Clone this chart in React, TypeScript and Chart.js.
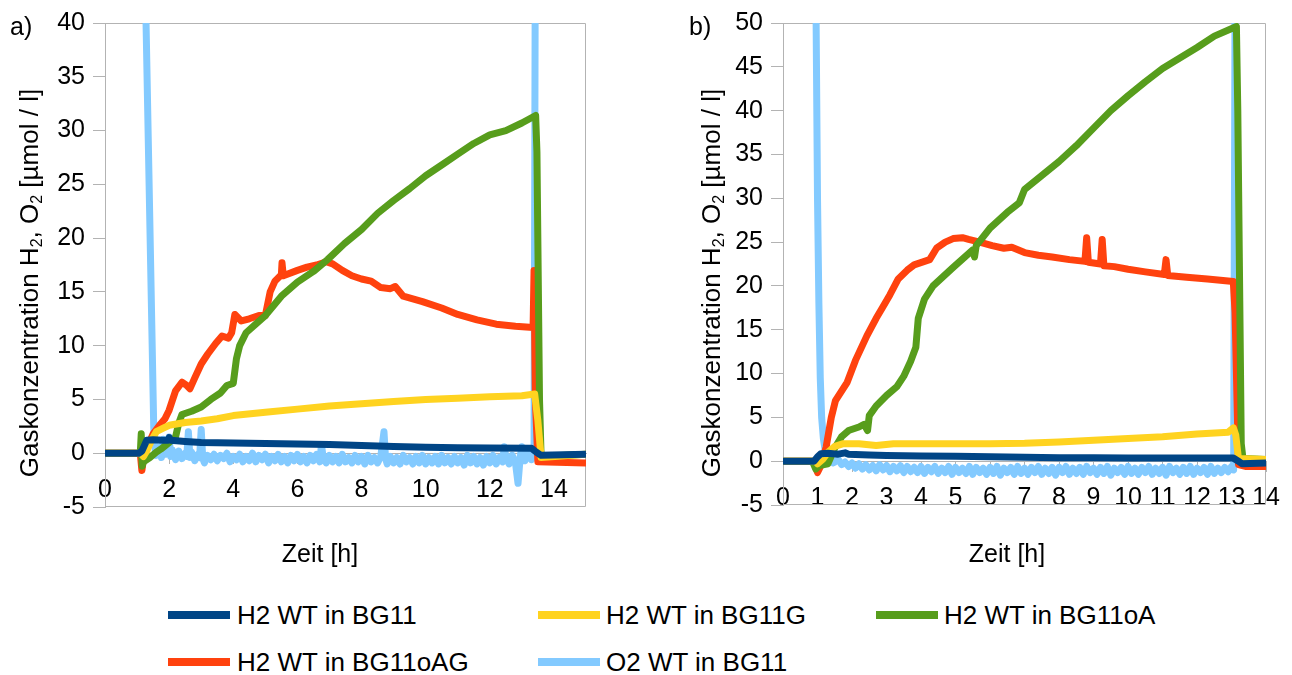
import React, { useEffect, useRef } from "react";
import { Chart, registerables } from "chart.js";

Chart.register(...registerables);

// ---------- colours / labels ----------
const C_BG11 = "#004586";
const C_BG11G = "#ffd320";
const C_BG11OA = "#579d1c";
const C_BG11OAG = "#ff420e";
const C_O2 = "#83caff";

const LABELS = ["H2 WT in BG11", "H2 WT in BG11G", "H2 WT in BG11oA", "H2 WT in BG11oAG", "O2 WT in BG11"];

// ---------- panel a) data [h, µmol/l] ----------
const A_H2_BG11: number[][] = [
  [0, 0], [1.05, 0], [1.15, 0.2], [1.3, 1.2], [1.5, 1.25], [1.8, 1.2], [1.97, 1.2], [2.0, 1.45], [2.05, 1.2],
  [2.5, 1.1], [3, 1.0], [4, 0.95], [5, 0.9], [6, 0.85], [7, 0.8], [8, 0.72], [9, 0.62], [10, 0.56],
  [11, 0.52], [12, 0.48], [13.3, 0.46], [13.45, 0.1], [13.6, -0.2], [15, -0.1],
];
const A_H2_BG11G: number[][] = [
  [0, 0], [1.1, 0], [1.2, -0.3], [1.3, 0.2], [1.45, 1.2], [1.6, 2.0], [1.8, 2.3], [2, 2.6], [2.5, 2.85],
  [3, 3.0], [3.5, 3.2], [4, 3.5], [5, 3.8], [6, 4.1], [7, 4.4], [8, 4.6], [9, 4.8], [10, 5.0], [11, 5.1],
  [12, 5.25], [13, 5.35], [13.4, 5.5], [13.5, 3.0], [13.6, -0.4], [15, -0.1],
];
const A_H2_BG11OA: number[][] = [
  [0, 0], [1.1, 0], [1.13, 1.8], [1.16, -1.2], [1.2, -0.8], [1.4, -0.4], [1.6, 0.1], [1.75, 0.4], [2.0, 1.0],
  [2.2, 1.5], [2.3, 2.8], [2.4, 3.6], [2.7, 3.9], [3.0, 4.3], [3.3, 5.0], [3.6, 5.6], [3.8, 6.3], [4.0, 6.5],
  [4.1, 8.8], [4.2, 10.0], [4.4, 11.2], [4.7, 12.0], [5.0, 12.8], [5.5, 14.6], [6.0, 15.9], [6.5, 16.9],
  [6.94, 18.0], [7.47, 19.5], [8.0, 20.8], [8.5, 22.3], [9.0, 23.5], [9.5, 24.6], [10.0, 25.8], [10.5, 26.8],
  [11.0, 27.8], [11.5, 28.8], [12.0, 29.6], [12.5, 30.0], [13.0, 30.7], [13.43, 31.4], [13.47, 28],
  [13.55, 5], [13.6, -0.3], [15, -0.1],
];
const A_H2_BG11OAG: number[][] = [
  [0, 0], [1.1, 0], [1.15, -1.6], [1.2, -0.5], [1.35, 0.8], [1.5, 1.8], [1.7, 2.6], [1.87, 3.2], [2.0, 4.0],
  [2.2, 5.8], [2.4, 6.6], [2.55, 6.3], [2.65, 6.0], [2.8, 7.0], [3.0, 8.3], [3.2, 9.2], [3.45, 10.2],
  [3.65, 10.9], [3.85, 10.7], [3.95, 11.2], [4.05, 12.9], [4.25, 12.3], [4.5, 12.5], [4.8, 12.8], [5.0, 12.8],
  [5.15, 15.0], [5.3, 16.0], [5.5, 16.6], [5.52, 17.7], [5.56, 16.5], [6.0, 17.0], [6.3, 17.3], [6.6, 17.5],
  [6.9, 17.8], [7.1, 17.6], [7.4, 17.0], [7.7, 16.5], [8.0, 16.2], [8.3, 16.0], [8.6, 15.4], [8.9, 15.3],
  [9.05, 15.5], [9.3, 14.6], [9.9, 14.1], [10.5, 13.5], [11.0, 12.9], [11.6, 12.4], [12.2, 12.0],
  [12.8, 11.8], [13.35, 11.7], [13.38, 17.0], [13.42, 5], [13.5, -0.8], [15, -0.9],
];
const A_O2_BG11: number[][] = [
  [1.2, 150], [1.28, 40], [1.52, 2.4], [1.56, 0.4], [1.6, -0.2], [1.7, 0.6], [1.76, -0.4], [1.82, 1.3],
  [1.9, -0.1], [1.96, 0.5], [2.0, 1.5], [2.05, -0.3], [2.1, 0.3], [2.2, -0.6], [2.3, 0.2], [2.4, -0.5],
  [2.5, 0.0], [2.55, -0.3], [2.6, 2.0], [2.65, -0.4], [2.7, 0.1], [2.8, -0.7], [2.9, -0.1], [2.95, -0.4],
  [3.0, 2.2], [3.05, -0.5], [3.1, -0.9], [3.2, -0.2], [3.3, -0.6], [3.4, -0.1], [3.5, -0.7], [3.6, -0.2],
  [3.7, -0.5], [3.8, 0.0], [3.9, -0.8], [4.0, -0.3], [4.1, -0.6], [4.2, -0.1], [4.3, -0.8], [4.4, -0.3],
  [4.5, -0.7], [4.6, 0.0], [4.7, -0.8], [4.8, -0.2], [4.9, -0.6], [5.0, -0.1], [5.1, -0.9], [5.2, -0.3],
  [5.3, -0.7], [5.4, -0.1], [5.5, -0.8], [5.6, -0.3], [5.7, -0.9], [5.8, -0.2], [5.9, -0.7], [6.0, -0.1],
  [6.1, -0.8], [6.2, -0.3], [6.3, -0.9], [6.4, -0.2], [6.5, -0.7], [6.6, -0.1], [6.7, -0.8], [6.75, 0.8],
  [6.8, -0.3], [6.9, -0.9], [7.0, -0.2], [7.1, -0.8], [7.2, -0.3], [7.3, -0.9], [7.4, -0.1], [7.5, -0.8],
  [7.6, -0.4], [7.7, -0.9], [7.8, -0.2], [7.9, -0.8], [8.0, -0.3], [8.1, -1.0], [8.2, -0.2], [8.3, -0.8],
  [8.4, -0.4], [8.5, -0.9], [8.6, -0.3], [8.7, 2.0], [8.75, -0.5], [8.8, -1.0], [8.9, -0.3], [9.0, -0.9],
  [9.1, -0.4], [9.2, -1.0], [9.3, -0.2], [9.4, -0.8], [9.5, -0.4], [9.6, -1.0], [9.7, -0.3], [9.8, -0.9],
  [9.9, -0.2], [10.0, -1.0], [10.1, -0.4], [10.2, -0.9], [10.3, -0.3], [10.4, -1.0], [10.5, -0.2],
  [10.6, -0.9], [10.7, -0.4], [10.8, -1.0], [10.9, -0.3], [11.0, -0.9], [11.1, -0.4], [11.2, -1.1],
  [11.3, -0.2], [11.4, -0.9], [11.5, -0.3], [11.6, -1.0], [11.7, -0.4], [11.8, -1.1], [11.9, -0.3],
  [12.0, -0.9], [12.1, -0.2], [12.2, -1.0], [12.3, -0.4], [12.4, -0.8], [12.45, 0.6], [12.5, -0.3],
  [12.6, -1.0], [12.7, -0.2], [12.8, -0.9], [12.88, -2.8], [12.95, -0.3], [13.0, 0.6], [13.1, -0.7],
  [13.2, 0.2], [13.3, -0.6], [13.38, 0.2], [13.43, 60],
];

// ---------- panel b) data [h, µmol/l] ----------
const B_H2_BG11: number[][] = [
  [0, 0], [0.9, 0], [1.0, 0.5], [1.1, 0.85], [1.3, 0.9], [1.6, 0.8], [1.8, 0.95], [1.9, 0.8], [2.5, 0.7],
  [3, 0.65], [4, 0.6], [5, 0.55], [6, 0.5], [7, 0.45], [8, 0.4], [9, 0.4], [10, 0.35], [11, 0.35],
  [12, 0.35], [13.05, 0.35], [13.2, 0.0], [13.3, -0.3], [14, -0.2],
];
const B_H2_BG11G: number[][] = [
  [0, 0], [0.95, 0], [1.0, -0.3], [1.15, 0.2], [1.3, 1.0], [1.5, 1.7], [1.75, 2.0], [2.2, 2.0], [2.7, 1.8],
  [3.2, 2.0], [4, 2.0], [5, 2.0], [6, 2.0], [7, 2.05], [8, 2.2], [9, 2.4], [10, 2.6], [11, 2.8], [12, 3.1],
  [12.9, 3.3], [13.05, 3.8], [13.12, 3.0], [13.2, 0.3], [14, 0.2],
];
const B_H2_BG11OA: number[][] = [
  [0, 0], [0.85, 0], [0.95, -0.9], [1.05, -0.5], [1.3, -0.3], [1.5, 1.5], [1.7, 2.8], [1.9, 3.5], [2.2, 3.9],
  [2.35, 4.2], [2.45, 3.5], [2.5, 5.2], [2.7, 6.3], [3.0, 7.5], [3.3, 8.5], [3.5, 9.7], [3.7, 11.4],
  [3.85, 13.0], [3.92, 16.3], [4.1, 18.5], [4.35, 20.0], [4.9, 22.0], [5.5, 24.1], [5.55, 23.3], [5.6, 24.6],
  [6.0, 26.6], [6.5, 28.4], [6.85, 29.5], [7.0, 31.0], [7.5, 32.6], [8.0, 34.2], [8.5, 36.0], [9.0, 38.0],
  [9.5, 40.0], [10.0, 41.7], [10.5, 43.3], [11.0, 44.8], [11.5, 46.0], [12.0, 47.2], [12.5, 48.5],
  [13.14, 49.6], [13.18, 40], [13.28, 2], [13.33, 0.3], [14, 0.2],
];
const B_H2_BG11OAG: number[][] = [
  [0, 0], [0.9, 0], [1.0, -1.3], [1.1, -0.5], [1.25, 1.6], [1.4, 5.0], [1.52, 6.9], [1.86, 9.0], [2.1, 11.5],
  [2.43, 14.3], [2.7, 16.3], [2.88, 17.5], [3.1, 19.0], [3.34, 20.8], [3.6, 21.8], [3.8, 22.4], [4.25, 23.0],
  [4.45, 24.3], [4.7, 25.0], [4.93, 25.4], [5.2, 25.5], [5.38, 25.3], [5.7, 25.0], [6.06, 24.6], [6.4, 24.3],
  [6.63, 24.4], [7.0, 23.8], [7.4, 23.5], [7.8, 23.3], [8.3, 23.0], [8.75, 22.8], [8.8, 25.5], [8.85, 22.7],
  [9.2, 22.5], [9.25, 25.3], [9.3, 22.3], [9.6, 22.2], [10.0, 21.9], [10.5, 21.6], [11.05, 21.3],
  [11.1, 23.0], [11.15, 21.2], [11.7, 21.0], [12.3, 20.8], [13.05, 20.5], [13.1, 17.0], [13.2, -0.4],
  [13.4, -0.6], [14, -0.6],
];
const B_O2_BG11: number[][] = [
  [0.9, 200], [0.96, 50], [1.0, 30], [1.04, 18], [1.08, 9.5], [1.12, 5], [1.17, 2.6], [1.22, 1.3],
  [1.3, 0.8], [1.38, 0.3], [1.45, -0.2], [1.5, -0.1], [1.6, 0.2], [1.7, -0.4], [1.8, -0.1], [1.9, -0.6],
  [2.0, -0.2], [2.1, -0.8], [2.2, -0.3], [2.3, -0.9], [2.4, -0.4], [2.5, -1.0], [2.6, -0.5], [2.7, -1.1],
  [2.8, -0.4], [2.9, -1.0], [3.0, -0.5], [3.1, -1.2], [3.2, -0.6], [3.3, -1.1], [3.4, -0.5], [3.5, -1.3],
  [3.6, -0.6], [3.7, -1.2], [3.8, -0.7], [3.9, -1.3], [4.0, -0.6], [4.1, -1.4], [4.2, -0.7], [4.3, -1.2],
  [4.4, -0.6], [4.5, -1.4], [4.6, -0.8], [4.7, -1.3], [4.8, -0.6], [4.9, -1.5], [5.0, -0.7], [5.1, -1.3],
  [5.2, -0.8], [5.3, -1.4], [5.4, -0.6], [5.5, -1.5], [5.6, -0.7], [5.7, -1.3], [5.8, -0.8], [5.9, -1.5],
  [6.0, -0.7], [6.1, -1.4], [6.2, -0.6], [6.3, -1.6], [6.4, -0.8], [6.5, -1.3], [6.6, -0.7], [6.7, -1.5],
  [6.8, -0.6], [6.9, -1.4], [7.0, -0.8], [7.1, -1.5], [7.2, -0.7], [7.3, -1.3], [7.4, -0.6], [7.5, -1.5],
  [7.6, -0.8], [7.7, -1.4], [7.8, -0.7], [7.9, -1.6], [8.0, -0.7], [8.1, -1.3], [8.2, -0.6], [8.3, -1.5],
  [8.4, -0.8], [8.5, -1.4], [8.6, -0.7], [8.7, -1.5], [8.8, -0.6], [8.9, -1.3], [9.0, -0.8], [9.1, -1.5],
  [9.2, -0.7], [9.3, -1.4], [9.4, -0.6], [9.5, -1.6], [9.6, -0.8], [9.7, -1.3], [9.8, -0.7], [9.9, -1.5],
  [10.0, -0.6], [10.1, -1.4], [10.2, -0.8], [10.3, -1.5], [10.4, -0.7], [10.5, -1.3], [10.6, -0.6],
  [10.7, -1.5], [10.8, -0.8], [10.9, -1.4], [11.0, -0.7], [11.1, -1.6], [11.2, -0.6], [11.3, -1.3],
  [11.4, -0.8], [11.5, -1.5], [11.6, -0.7], [11.7, -1.4], [11.8, -0.6], [11.9, -1.5], [12.0, -0.8],
  [12.1, -1.3], [12.2, -0.7], [12.3, -1.5], [12.4, -0.6], [12.5, -1.4], [12.6, -0.8], [12.7, -1.3],
  [12.8, -0.7], [12.9, -1.2], [13.0, -0.6], [13.06, -1.0], [13.12, 80],
];

// ---------- axis settings ----------
const A_X = { min: 0, max: 15, step: 2 };
const A_Y = { min: -5, max: 40, step: 5 };
const B_X = { min: 0, max: 14, step: 1 };
const B_Y = { min: -5, max: 50, step: 5 };

const FONT = '"Liberation Sans", Arial, sans-serif';
const AXIS_GRAY = "#b3b3b3";

const framePlugin = {
  id: "frame",
  beforeDatasetsDraw(chart: any) {
    const { ctx, chartArea } = chart;
    const { left, right, top, bottom } = chartArea;
    ctx.save();
    ctx.strokeStyle = AXIS_GRAY;
    ctx.lineWidth = 1;
    ctx.beginPath();
    ctx.moveTo(left, Math.round(top) + 0.5);
    ctx.lineTo(Math.round(right) - 0.5, Math.round(top) + 0.5);
    ctx.lineTo(Math.round(right) - 0.5, Math.round(bottom) - 0.5);
    ctx.lineTo(left, Math.round(bottom) - 0.5);
    ctx.stroke();
    ctx.restore();
  },
};

function toPts(a: number[][]) {
  return a.map(([x, y]) => ({ x, y }));
}

function makeConfig(series: number[][][], xr: any, yr: any, padding: any) {
  const colors = [C_BG11, C_BG11G, C_BG11OA, C_BG11OAG, C_O2];
  return {
    type: "line" as const,
    data: {
      datasets: series.map((s, i) => ({
        label: LABELS[i],
        data: toPts(s),
        borderColor: colors[i],
        backgroundColor: colors[i],
        borderWidth: 7,
        pointRadius: 0,
        tension: 0,
        fill: false,
        clip: 0,
        borderJoinStyle: "round" as const,
      })),
    },
    options: {
      animation: false as const,
      responsive: false,
      devicePixelRatio: 1,
      layout: { padding },
      plugins: { legend: { display: false }, tooltip: { enabled: false }, title: { display: false } },
      scales: {
        x: {
          type: "linear" as const,
          position: { y: 0 } as any,
          min: xr.min,
          max: xr.max,
          ticks: {
            stepSize: xr.step,
            includeBounds: false,
            autoSkip: false,
            maxRotation: 0,
            minRotation: 0,
            padding: 12,
            color: "#000",
            font: { family: FONT, size: 25 },
          },
          grid: { drawOnChartArea: false, drawTicks: true, tickLength: 10, color: AXIS_GRAY },
          border: { display: true, color: AXIS_GRAY },
        },
        y: {
          type: "linear" as const,
          position: "left" as const,
          min: yr.min,
          max: yr.max,
          afterFit: (s: any) => {
            s.width = 60;
          },
          ticks: {
            stepSize: yr.step,
            autoSkip: false,
            padding: 8,
            color: "#000",
            font: { family: FONT, size: 25 },
          },
          grid: { drawOnChartArea: false, drawTicks: true, tickLength: 12, color: AXIS_GRAY },
          border: { display: true, color: AXIS_GRAY },
        },
      },
    },
    plugins: [framePlugin],
  };
}

const LEGEND_ITEMS = [
  { label: LABELS[0], color: C_BG11, sx: 168, tx: 237, row: 0 },
  { label: LABELS[1], color: C_BG11G, sx: 538, tx: 606, row: 0 },
  { label: LABELS[2], color: C_BG11OA, sx: 876, tx: 944, row: 0 },
  { label: LABELS[3], color: C_BG11OAG, sx: 168, tx: 237, row: 1 },
  { label: LABELS[4], color: C_O2, sx: 538, tx: 606, row: 1 },
];

function YTitle({ cx, cy }: { cx: number; cy: number }) {
  return (
    <div
      style={{
        position: "absolute",
        left: cx,
        top: cy,
        transform: "translate(-50%, -50%) rotate(-90deg)",
        whiteSpace: "nowrap",
        fontSize: 26,
        lineHeight: "30px",
        color: "#000",
      }}
    >
      Gaskonzentration H<sub style={{ fontSize: 16, verticalAlign: "-4px" }}>2</sub>, O
      <sub style={{ fontSize: 16, verticalAlign: "-4px" }}>2</sub> [µmol / l]
    </div>
  );
}

export default function App() {
  const refA = useRef<HTMLCanvasElement>(null);
  const refB = useRef<HTMLCanvasElement>(null);

  useEffect(() => {
    const a = new Chart(
      refA.current as HTMLCanvasElement,
      makeConfig([A_H2_BG11, A_H2_BG11G, A_H2_BG11OA, A_H2_BG11OAG, A_O2_BG11], A_X, A_Y, {
        left: 45,
        right: 24,
        top: 23,
        bottom: 33,
      }) as any
    );
    const b = new Chart(
      refB.current as HTMLCanvasElement,
      makeConfig([B_H2_BG11, B_H2_BG11G, B_H2_BG11OA, B_H2_BG11OAG, B_O2_BG11], B_X, B_Y, {
        left: 43,
        right: 25,
        top: 23,
        bottom: 35,
      }) as any
    );
    return () => {
      a.destroy();
      b.destroy();
    };
  }, []);

  return (
    <div
      style={{
        position: "fixed",
        left: 0,
        top: 0,
        width: 1292,
        height: 675,
        background: "#fff",
        overflow: "hidden",
        fontFamily: FONT,
        color: "#000",
      }}
    >
      <canvas ref={refA} width={610} height={540} style={{ position: "absolute", left: 0, top: 0 }} />
      <canvas ref={refB} width={612} height={540} style={{ position: "absolute", left: 680, top: 0 }} />

      <div style={{ position: "absolute", left: 10, top: 14, fontSize: 25, lineHeight: "25px" }}>a)</div>
      <div style={{ position: "absolute", left: 689, top: 14, fontSize: 25, lineHeight: "25px" }}>b)</div>

      <YTitle cx={33} cy={283} />
      <YTitle cx={715} cy={283} />

      <div
        style={{ position: "absolute", left: 320, top: 541, fontSize: 25, lineHeight: "25px", transform: "translateX(-50%)", whiteSpace: "nowrap" }}
      >
        Zeit [h]
      </div>
      <div
        style={{ position: "absolute", left: 1007, top: 541, fontSize: 25, lineHeight: "25px", transform: "translateX(-50%)", whiteSpace: "nowrap" }}
      >
        Zeit [h]
      </div>

      {LEGEND_ITEMS.map((it) => {
        const cy = it.row === 0 ? 615 : 662;
        return (
          <React.Fragment key={it.label}>
            <div
              style={{ position: "absolute", left: it.sx, top: cy - 4, width: 62, height: 8, background: it.color }}
            />
            <div
              style={{
                position: "absolute",
                left: it.tx,
                top: cy - 13.5,
                fontSize: 26,
                lineHeight: "26px",
                whiteSpace: "nowrap",
              }}
            >
              {it.label}
            </div>
          </React.Fragment>
        );
      })}
    </div>
  );
}
